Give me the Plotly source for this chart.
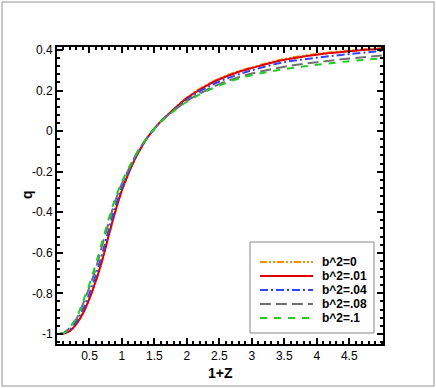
import plotly.graph_objects as go

# 1+Z sample positions
x = [0.05, 0.1, 0.2, 0.3, 0.4, 0.5, 0.6, 0.7, 0.8, 0.9, 1.0, 1.1, 1.2, 1.3, 1.4, 1.5,
     1.6, 1.8, 2.0, 2.25, 2.5, 2.75, 3.0, 3.5, 4.0, 4.5, 5.0]

q_b0 = [-1.0, -0.998, -0.986, -0.952, -0.901, -0.829, -0.741, -0.636, -0.514, -0.397,
        -0.294, -0.211, -0.139, -0.08, -0.029, 0.012, 0.049, 0.11, 0.166, 0.219,
        0.26, 0.291, 0.315, 0.356, 0.381, 0.398, 0.41]
q_b01 = [-1.0, -0.998, -0.985, -0.950, -0.898, -0.825, -0.737, -0.632, -0.510, -0.393,
         -0.291, -0.209, -0.138, -0.079, -0.029, 0.012, 0.048, 0.108, 0.163, 0.215,
         0.256, 0.287, 0.311, 0.352, 0.377, 0.394, 0.406]
q_b04 = [-1.0, -0.997, -0.978, -0.939, -0.878, -0.800, -0.707, -0.600, -0.482, -0.371,
         -0.277, -0.201, -0.133, -0.076, -0.028, 0.012, 0.048, 0.105, 0.156, 0.206,
         0.245, 0.275, 0.3, 0.34, 0.362, 0.38, 0.395]
q_b08 = [-1.0, -0.996, -0.969, -0.926, -0.852, -0.769, -0.674, -0.558, -0.446, -0.342,
         -0.258, -0.19, -0.126, -0.073, -0.027, 0.013, 0.047, 0.102, 0.149, 0.194,
         0.232, 0.261, 0.284, 0.318, 0.34, 0.358, 0.373]
q_b1 = [-1.0, -0.996, -0.965, -0.92, -0.84, -0.755, -0.653, -0.54, -0.43, -0.33,
        -0.25, -0.185, -0.123, -0.071, -0.027, 0.013, 0.047, 0.1, 0.145, 0.19,
        0.225, 0.254, 0.276, 0.306, 0.327, 0.345, 0.359]

names = ["b^2=0", "b^2=.01", "b^2=.04", "b^2=.08", "b^2=.1"]

xticks = [0.5, 1, 1.5, 2, 2.5, 3, 3.5, 4, 4.5]
xticklabels = ["0.5", "1", "1.5", "2", "2.5", "3", "3.5", "4", "4.5"]
yticks = [-1, -0.8, -0.6, -0.4, -0.2, 0, 0.2, 0.4]
yticklabels = ["-1", "-0.8", "-0.6", "-0.4", "-0.2", "0", "0.2", "0.4"]

styles = [
    dict(color="#FF8C00", dash="7px,2px,2px,2px,2px,2px"),
    dict(color="#E00000", dash="solid"),
    dict(color="#3344FF", dash="8px,3px,2px,3px"),
    dict(color="#707070", dash="11px,5px"),
    dict(color="#22CC22", dash="7px,7px"),
]

FONT = "Liberation Sans, Arial"

fig = go.Figure()
for name, q, st in zip(names, [q_b0, q_b01, q_b04, q_b08, q_b1], styles):
    fig.add_trace(go.Scatter(x=x, y=q, mode="lines", name=name, line_shape="spline",
                             line=dict(width=2, **st), showlegend=False))

axis_common = dict(showline=True, linecolor="black", linewidth=2, mirror="allticks",
                   ticks="inside", ticklen=6, tickwidth=2, tickcolor="black",
                   showgrid=False, zeroline=False,
                   tickfont=dict(family=FONT, size=12, color="black"))

fig.update_xaxes(range=[0, 5.02], tickmode="array", tickvals=xticks, ticktext=xticklabels,
                 minor=dict(ticks="inside", ticklen=3, dtick=0.1, tick0=0, tickcolor="black"),
                 **axis_common)
fig.update_yaxes(range=[-1.05, 0.415], tickmode="array", tickvals=yticks, ticktext=yticklabels,
                 minor=dict(ticks="inside", ticklen=3, dtick=0.04, tick0=0, tickcolor="black"),
                 **axis_common)

# pixel -> paper helpers for the plot box (57..383 x 47..344)
W, H = 326.0, 297.0
def px(xp):
    return (xp - 57) / W
def py(yp):
    return (344 - yp) / H

title_font = dict(family=FONT, size=14, color="black")
annotations = [
    dict(xref="paper", yref="paper", x=px(220), y=py(373), text="<b>1+Z</b>",
         showarrow=False, xanchor="center", yanchor="middle", font=title_font),
    dict(xref="paper", yref="paper", x=px(27), y=py(195), text="<b>q</b>",
         showarrow=False, xanchor="center", yanchor="middle", textangle=-90,
         font=title_font),
]

# hand-drawn legend box (tighter row spacing than plotly's own legend)
shapes = [dict(type="rect", xref="paper", yref="paper",
               x0=px(2), x1=px(434), y0=py(386), y1=py(2),
               line=dict(color="#B8B8B8", width=1.5)),
          dict(type="rect", xref="paper", yref="paper",
               x0=px(250), x1=px(374), y0=py(333), y1=py(242),
               line=dict(color="#888888", width=1), fillcolor="white", layer="above")]
for i, (name, st) in enumerate(zip(names, styles)):
    yy = 262 + 14 * i
    shapes.append(dict(type="line", xref="paper", yref="paper",
                       x0=px(260), x1=px(313), y0=py(yy), y1=py(yy),
                       line=dict(width=2, **st), layer="above"))
    annotations.append(dict(xref="paper", yref="paper", x=px(320), y=py(yy),
                            xanchor="left", yanchor="middle", showarrow=False,
                            text="<b>" + name + "</b>",
                            font=dict(family=FONT, size=12, color="black")))

fig.update_layout(
    width=436, height=388,
    margin=dict(l=57, r=53, t=47, b=44),
    paper_bgcolor="white", plot_bgcolor="white",
    shapes=shapes, annotations=annotations,
)

fig.write_html("out.html", config={"displayModeBar": False},
               post_script="document.body.style.margin='0';")
